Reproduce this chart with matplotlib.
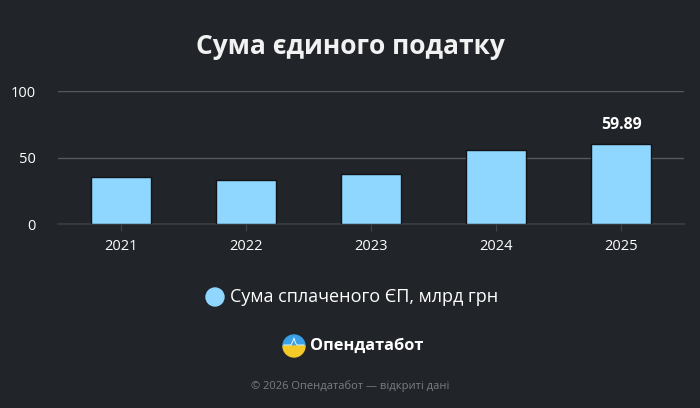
import matplotlib
matplotlib.use("Agg")
import matplotlib.pyplot as plt
from matplotlib.patches import Wedge, Circle
import numpy as np

plt.rcParams['font.family'] = ['Open Sans', 'DejaVu Sans']

# Дані
years = ['2021', '2022', '2023', '2024', '2025']
values = [35.1, 32.9, 37.8, 55.4, 59.89]
yticks = [0, 50, 100]
title = 'Сума єдиного податку'
series_name = 'Сума сплаченого ЄП, млрд грн'
footer = '© 2026 Опендатабот — відкриті дані'

bg = '#212428'
bar_col = '#8fd7ff'

fig = plt.figure(figsize=(7, 4.08), dpi=100, facecolor=bg)
ax = fig.add_axes([58/700, 1-224/408, (684-58)/700, (224-91)/408])
ax.set_facecolor(bg)

x = np.arange(len(years))
ax.bar(x, values, width=0.48, color=bar_col, edgecolor='#111316', linewidth=1.0, zorder=3)

ax.set_xlim(-0.5, len(years) - 0.5)
ax.set_ylim(0, 100)
ax.set_yticks(yticks)
ax.set_xticks(x)
ax.set_xticklabels(years)
ax.tick_params(axis='y', length=0, pad=16, colors='white', labelsize=10.5)
ax.tick_params(axis='x', length=5, pad=6, colors='#444',
               labelcolor='white', labelsize=10.5)
ax.grid(axis='y', color='#55585c', linewidth=1.0, zorder=0)
for s in ['top', 'right', 'left']:
    ax.spines[s].set_visible(False)
ax.spines['bottom'].set_color('#3a3d41')
ax.spines['bottom'].set_linewidth(1.2)
ax.set_axisbelow(True)

# підпис останнього стовпця
ax.annotate(f'{values[-1]:.2f}', (x[-1], values[-1]), xytext=(0, 8),
            textcoords='offset points', ha='center', va='bottom',
            color='white', fontsize=11.5, fontweight='bold', zorder=5)

fig.text(0.5, 1-47/408, title, ha='center', va='center', color='#f2f2f2',
         fontsize=19, fontweight='bold')

# легенда і підвал у піксельних координатах
ov = fig.add_axes([0, 0, 1, 1], facecolor='none')
ov.set_xlim(0, 700)
ov.set_ylim(408, 0)
ov.axis('off')
ov.add_patch(Circle((215, 297), 9, color=bar_col))
ov.text(230, 297, series_name, ha='left', va='center', color='white', fontsize=13)

# логотип
cx, cy, r = 294, 346, 11
ov.add_patch(Wedge((cx, cy), r, 180, 360, color='#3aa0e8'))
ov.add_patch(Wedge((cx, cy), r, 0, 180, color='#f5c928'))
ov.plot([cx - r + 1, cx - 3, cx - 1.5, cx, cx + 1.5, cx + 3, cx + r - 1],
        [cy - 1, cy - 1, cy - 4, cy - 8, cy - 3, cy - 1, cy - 1],
        color='white', linewidth=0.7, alpha=0.9)
ov.text(310, 346, 'Опендатабот', ha='left', va='center', color='white',
        fontsize=11.8, fontweight='bold')

ov.text(350, 386, footer, ha='center', va='center', color='#7a7d82', fontsize=8)

fig.savefig('out.png', dpi=100, facecolor=bg)
